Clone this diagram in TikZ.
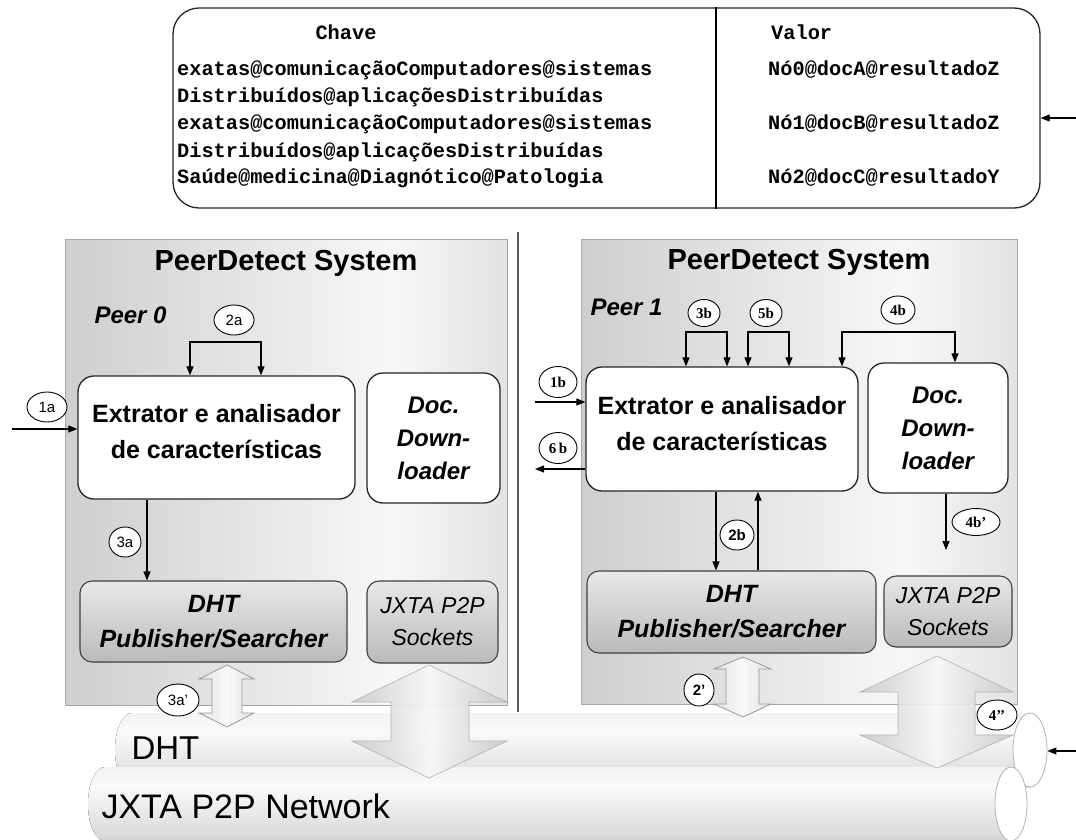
\documentclass[tikz,border=0pt]{standalone}
\usepackage{fontspec}
\setmainfont{Liberation Sans}
\newfontfamily\serifb{Liberation Serif}
\newfontfamily\monob{Liberation Mono}
\usetikzlibrary{shapes.geometric,arrows.meta,calc}
\pgfdeclarehorizontalshading{peerbg}{100bp}{color(0bp)=(black!30); color(62bp)=(black!3); color(100bp)=(black!27)}
\pgfdeclarehorizontalshading{blockbg}{100bp}{color(0bp)=(black!38); color(50bp)=(black!3); color(100bp)=(black!38)}
\pgfdeclarehorizontalshading{smallbg}{100bp}{color(0bp)=(black!22); color(50bp)=(black!2); color(100bp)=(black!22)}
\pgfdeclareverticalshading{cyl}{100bp}{color(0bp)=(black!36); color(30bp)=(black!14); color(62bp)=(black!2); color(85bp)=(black!7); color(100bp)=(black!20)}
\pgfdeclareverticalshading{modbg}{100bp}{color(0bp)=(black!36); color(100bp)=(white)}
\tikzset{
  box/.style={draw=black!85, line width=1.3pt, rounded corners=16pt, fill=white, inner sep=0pt},
  modbox/.style={draw=black!75, line width=1.1pt, rounded corners=12pt, shading=modbg, inner sep=0pt},
  lab/.style={ellipse, draw=black, fill=white, line width=0.9pt, inner sep=0pt, minimum width=36pt, minimum height=28pt},
  laba/.style={lab, font=\fontsize{15}{15}\selectfont},
  labb/.style={lab, font=\serifb\bfseries\fontsize{15}{15}\selectfont},
  arr/.style={-{Triangle[length=9pt,width=7pt]}, line width=1.1pt},
  dbl/.style={{Triangle[length=9pt,width=7pt]}-{Triangle[length=9pt,width=7pt]}, line width=1.1pt},
  title/.style={font=\bfseries\fontsize{29}{29}\selectfont},
  peername/.style={anchor=west, font=\bfseries\itshape\fontsize{24}{24}\selectfont},
  extxt/.style={align=center, font=\bfseries\fontsize{25}{36}\selectfont},
  doctxt/.style={align=center, font=\bfseries\itshape\fontsize{24}{33}\selectfont},
  dhttxt/.style={align=center, font=\bfseries\itshape\fontsize{25}{35}\selectfont},
  socktxt/.style={align=center, font=\itshape\fontsize{23}{32}\selectfont},
  tabtxt/.style={anchor=west, inner sep=0pt, font=\monob\bfseries\fontsize{20.3}{20.3}\selectfont},
  tabhead/.style={inner sep=0pt, font=\monob\bfseries\fontsize{20.3}{20.3}\selectfont},
  bigblock/.style={shading=blockbg, draw=black!30, line width=0.6pt, fill opacity=0.9},
  smallblock/.style={shading=smallbg, draw=black!40, line width=0.8pt},
  endcap/.style={ellipse, draw=black!30, line width=0.8pt, fill=white, inner sep=0pt}
}
\begin{document}
\begin{tikzpicture}[x=1pt,y=-1pt]
\useasboundingbox (0,0) rectangle (1076,839);
\fill[white] (0,0) rectangle (1076,839);

% ---------- key/value table ----------
\node[draw=black!85, line width=1.3pt, rounded corners=26pt, minimum width=867pt, minimum height=200pt, inner sep=0pt] (tbl) at (606.5,108) {};
\coordinate (dv) at (716,0);
\draw[line width=1.1pt] (tbl.north -| dv) -- (tbl.south -| dv);
\node[tabhead] (hk) at (346,32) {Chave};
\node[tabhead, anchor=west] (hv) at (771,32) {Valor};
\node[tabtxt] (k1) at (177,70) {exatas@comunicaçãoComputadores@sistemas};
\node[tabtxt] (k2) at (177,97) {Distribuídos@aplicaçõesDistribuídas};
\node[tabtxt] (k3) at (177,124) {exatas@comunicaçãoComputadores@sistemas};
\node[tabtxt] (k4) at (177,152) {Distribuídos@aplicaçõesDistribuídas};
\node[tabtxt] (k5) at (177,178) {Saúde@medicina@Diagnótico@Patologia};
\node[tabtxt] (v1) at (768,70) {Nó0@docA@resultadoZ};
\node[tabtxt] (v3) at (768,124) {Nó1@docB@resultadoZ};
\node[tabtxt] (v5) at (768,178) {Nó2@docC@resultadoY};
\coordinate (tin) at (1076,118);
\draw[arr] (tin) -- (tin -| tbl.east);

% ---------- peer backgrounds ----------
\fill[shading=peerbg] (65,239) rectangle (507,705);
\draw[black!35, line width=0.8pt] (65,239) rectangle (507,705);
\fill[shading=peerbg] (581,239) rectangle (1017,704);
\draw[black!35, line width=0.8pt] (581,239) rectangle (1017,704);
\draw[black!65, line width=1.6pt] (518,232) -- (518,712);

\node[title] (t0) at (286,263) {PeerDetect System};
\node[title] (t1) at (799,262) {PeerDetect System};
\node[peername] (p0) at (91,315) {Peer 0};
\node[peername] (p1) at (587,307) {Peer 1};

% ---------- cylinders ----------
\fill[shading=cyl] (132,713) -- (1030,713) -- (1030,787) -- (132,787) arc[start angle=270, end angle=90, x radius=17pt, y radius=37pt] -- cycle;
\node[endcap, minimum width=34pt, minimum height=74pt] (dhtend) at (1030,750) {};
\fill[shading=cyl] (105,767) -- (1011,767) -- (1011,841) -- (105,841) arc[start angle=270, end angle=90, x radius=17pt, y radius=37pt] -- cycle;
\node[endcap, minimum width=32pt, minimum height=74pt] (jxend) at (1011,804) {};
\node[anchor=west, font=\fontsize{33}{33}\selectfont] (dhtlab) at (128,748) {DHT};
\node[anchor=west, font=\fontsize{34}{34}\selectfont] (jxlab) at (98,806) {JXTA P2P Network};
\coordinate (din) at (1076,751);
\draw[arr] (din) -- (din -| dhtend.east);

% ---------- block arrows ----------
\path[bigblock] (429,665) -- (507,702) -- (469,702) -- (469,741) -- (507,741) -- (429,778) -- (352,741) -- (391,741) -- (391,702) -- (352,702) -- cycle;
\path[bigblock] (937,656) -- (1013,692) -- (975,692) -- (975,735) -- (1013,735) -- (937,768) -- (860,735) -- (898,735) -- (898,692) -- (860,692) -- cycle;
\path[smallblock] (227,665) -- (254,679) -- (242,679) -- (242,713) -- (254,713) -- (227,727) -- (199,713) -- (212,713) -- (212,679) -- (199,679) -- cycle;
\path[smallblock] (743,657) -- (771,669) -- (759,669) -- (759,704) -- (771,704) -- (743,717) -- (714,704) -- (726,704) -- (726,669) -- (714,669) -- cycle;

% ---------- peer 0 modules ----------
\node[box, minimum width=277pt, minimum height=123pt] (ex0) at (216.5,437.5) {};
\node[extxt] (ex0t) at (216.5,432) {Extrator e analisador\\de características};
\node[box, minimum width=133pt, minimum height=130pt, doctxt] (doc0) at (433.5,438) {Doc.\\Down-\\loader};
\node[modbox, minimum width=267pt, minimum height=81pt, dhttxt] (dht0) at (213.5,621.5) {DHT\\Publisher/Searcher};
\node[modbox, minimum width=131pt, minimum height=82pt, socktxt] (sock0) at (432.5,622) {JXTA P2P\\Sockets};

% ---------- peer 1 modules ----------
\node[box, minimum width=272pt, minimum height=124pt] (ex1) at (722,429) {};
\node[extxt] (ex1t) at (722,424) {Extrator e analisador\\de características};
\node[box, minimum width=140pt, minimum height=130pt, doctxt] (doc1) at (938,428) {Doc.\\Down-\\loader};
\node[modbox, minimum width=289pt, minimum height=82pt, dhttxt] (dht1) at (731.5,612) {DHT\\Publisher/Searcher};
\node[modbox, minimum width=128pt, minimum height=71pt, socktxt] (sock1) at (948,611.5) {JXTA P2P\\Sockets};

% ---------- peer 0 connectors ----------
\coordinate (in1a) at (12,429);
\draw[arr] (in1a) -- (in1a -| ex0.west);
\coordinate (b2l) at (190,342);
\coordinate (b2r) at (261,342);
\draw[dbl] (b2l |- ex0.north) -- (b2l) -- (b2r) -- (b2r |- ex0.north);
\coordinate (x3a) at (147,0);
\draw[arr] (x3a |- ex0.south) -- (x3a |- dht0.north);

% ---------- peer 1 connectors ----------
\coordinate (in1b) at (535,402);
\draw[arr] (in1b) -- (in1b -| ex1.west);
\coordinate (out6b) at (535,469);
\draw[arr] (out6b -| ex1.west) -- (out6b);
\coordinate (b3l) at (686,332);
\coordinate (b3r) at (727,332);
\draw[dbl] (b3l |- ex1.north) -- (b3l) -- (b3r) -- (b3r |- ex1.north);
\coordinate (b5l) at (748,332);
\coordinate (b5r) at (789,332);
\draw[dbl] (b5l |- ex1.north) -- (b5l) -- (b5r) -- (b5r |- ex1.north);
\coordinate (b4l) at (842,332);
\coordinate (b4r) at (955,332);
\draw[dbl] (b4l |- ex1.north) -- (b4l) -- (b4r) -- (b4r |- doc1.north);
\coordinate (x2d) at (716,0);
\coordinate (x2u) at (758,0);
\draw[arr] (x2d |- ex1.south) -- (x2d |- dht1.north);
\draw[arr] (x2u |- dht1.north) -- (x2u |- ex1.south);
\coordinate (e4b) at (946,550);
\draw[arr] (e4b |- doc1.south) -- (e4b);

% ---------- step labels ----------
\node[laba, minimum width=40pt, minimum height=30pt] (l1a) at (47,407) {1a};
\node[laba, minimum width=40pt, minimum height=30pt] (l2a) at (234,320) {2a};
\node[laba, minimum width=32pt, minimum height=30pt] (l3a) at (125,542) {3a};
\node[laba, minimum width=42pt, minimum height=32pt] (l3ap) at (178,700) {3a’};
\node[labb, minimum width=38pt, minimum height=31pt] (l1b) at (558,382) {1b};
\node[labb, minimum width=38pt, minimum height=31pt] (l6b) at (558,448) {6\,b};
\node[labb, minimum width=32pt, minimum height=27pt] (l3b) at (704,313) {3b};
\node[labb, minimum width=32pt, minimum height=27pt] (l5b) at (766,313) {5b};
\node[labb, minimum width=34pt, minimum height=28pt] (l4b) at (898,310) {4b};
\node[laba, font=\bfseries\fontsize{15}{15}\selectfont, minimum width=34pt, minimum height=30pt] (l2b) at (737,535) {2b};
\node[labb, minimum width=48pt, minimum height=27pt] (l4bp) at (976,522) {4b’};
\node[laba, font=\bfseries\fontsize{15}{15}\selectfont, minimum width=30pt, minimum height=32pt] (l2p) at (699,690) {2’};
\node[labb, minimum width=40pt, minimum height=30pt] (l4pp) at (997,715) {4’’};
\end{tikzpicture}
\end{document}
